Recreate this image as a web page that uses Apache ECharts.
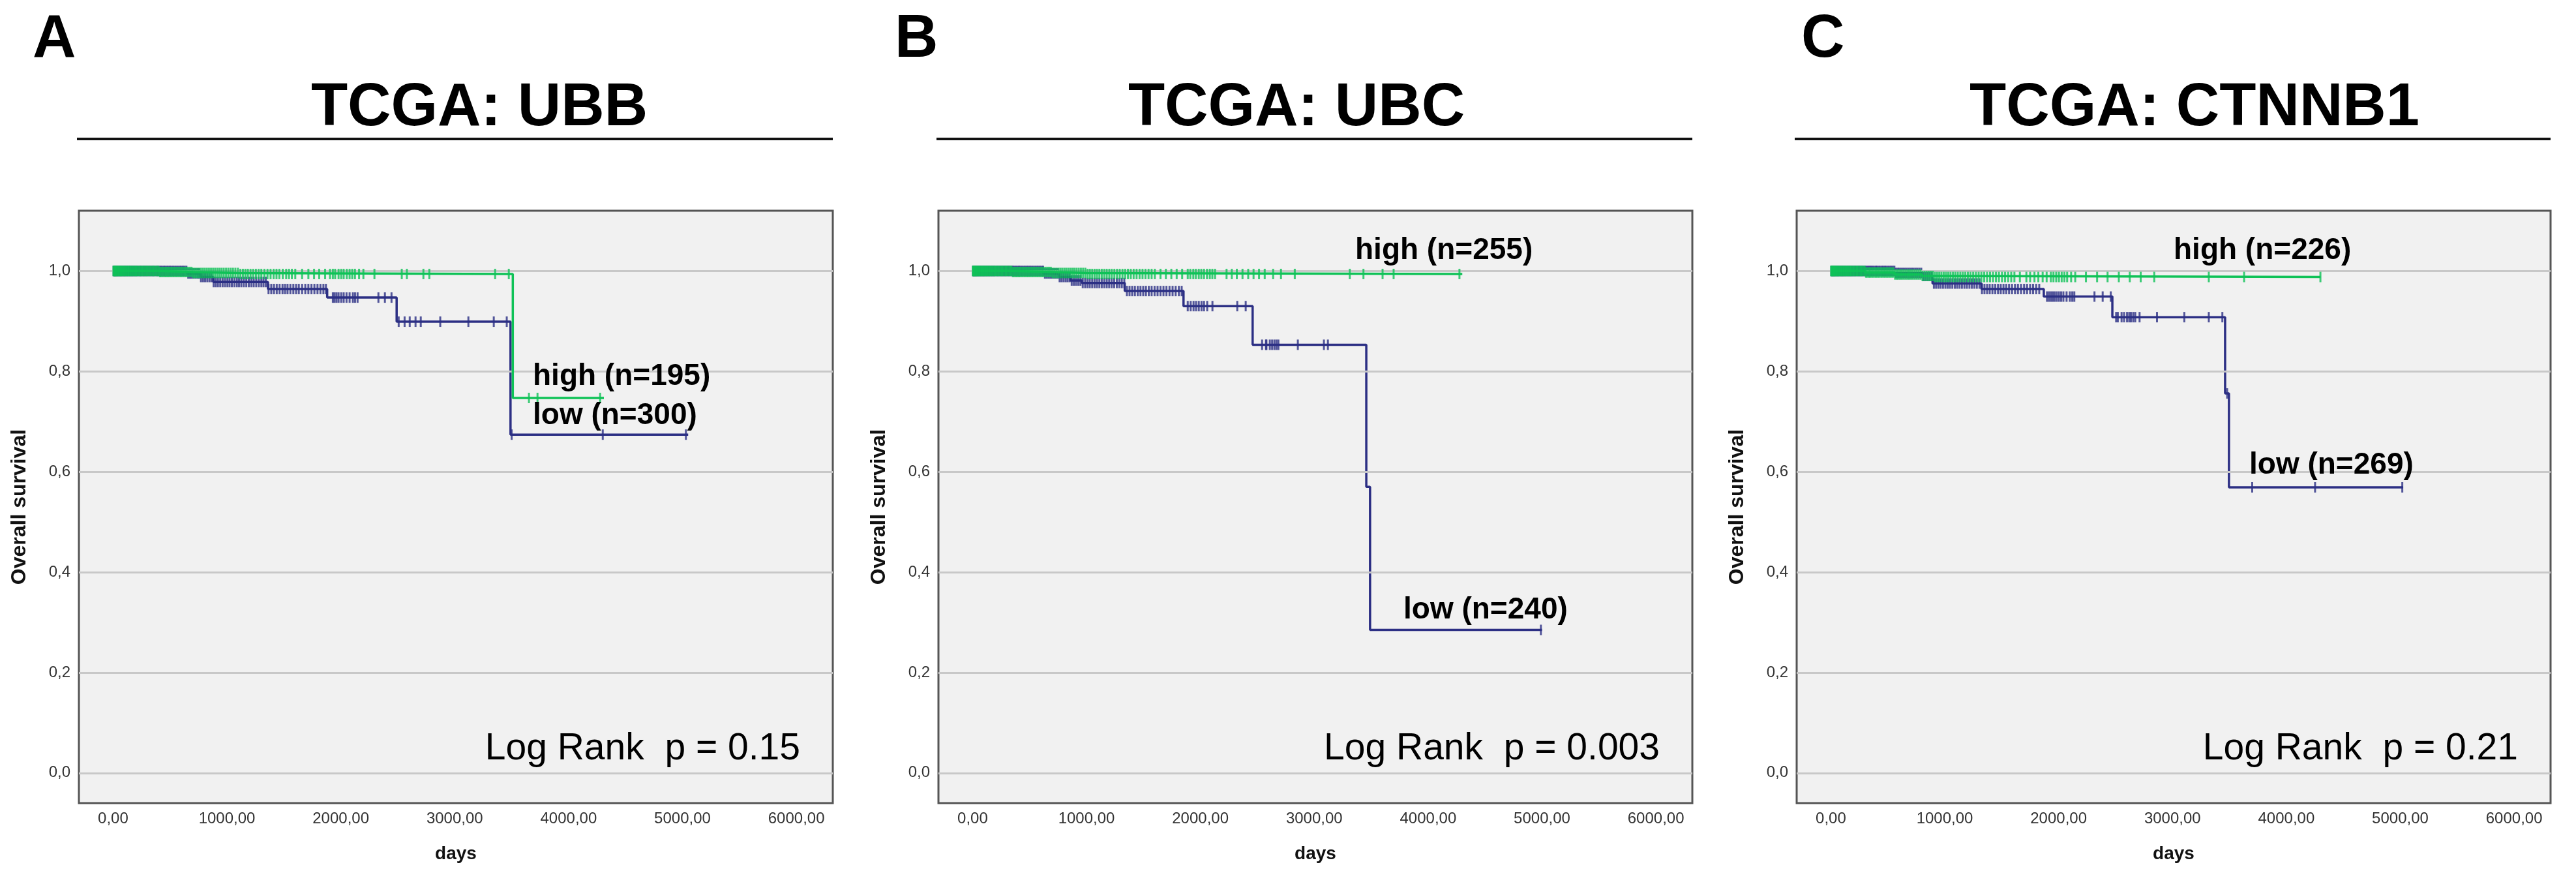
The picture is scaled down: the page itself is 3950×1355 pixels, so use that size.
<!DOCTYPE html>
<html><head><meta charset="utf-8">
<script src="https://cdn.jsdelivr.net/npm/echarts@6/dist/echarts.min.js"></script>
<style>html,body{margin:0;padding:0;background:#fff}#c{width:3950px;height:1355px}</style>
</head><body><div id="c"></div>
<script>
// ---------- text ----------
const panelLetters = ['A', 'B', 'C'];
const panelTitles = ['TCGA: UBB', 'TCGA: UBC', 'TCGA: CTNNB1'];
const logRankTexts = ['Log Rank  p = 0.15', 'Log Rank  p = 0.003', 'Log Rank  p = 0.21'];
const highLabels = ['high (n=195)', 'high (n=255)', 'high (n=226)'];
const lowLabels = ['low (n=300)', 'low (n=240)', 'low (n=269)'];
const xTickValues = [0, 1000, 2000, 3000, 4000, 5000, 6000];
const xTickLabels = ['0,00', '1000,00', '2000,00', '3000,00', '4000,00', '5000,00', '6000,00'];
const yTickValues = [0, 0.2, 0.4, 0.6, 0.8, 1.0];
const yTickLabels = ['0,0', '0,2', '0,4', '0,6', '0,8', '1,0'];
const xAxisTitle = 'days';
const yAxisTitle = 'Overall survival';

// ---------- Kaplan-Meier steps: [day, survival after event] ----------
const ubbLow = [[0,1],[650,0.995],[770,0.988],[880,0.978],[1360,0.964],[1880,0.947],[2490,0.899],[3490,0.674],[5050,0.674]];
const ubbHigh = [[0,1],[400,0.998],[700,0.996],[1100,0.994],[3510,0.747],[4310,0.747]];
const ubcLow = [[0,1],[620,0.995],[760,0.988],[860,0.981],[960,0.976],[1336,0.960],[1852,0.930],[2459,0.853],[3457,0.570],[3490,0.285],[5000,0.285]];
const ubcHigh = [[0,1],[350,0.998],[700,0.996],[1000,0.994],[4300,0.994]];
const ctnnb1Low = [[0,1],[560,0.996],[800,0.990],[893,0.975],[1323,0.964],[1870,0.949],[2472,0.908],[3462,0.756],[3496,0.569],[5026,0.569]];
const ctnnb1High = [[0,1],[300,0.997],[560,0.993],[800,0.990],[900,0.988],[4300,0.988]];

// ---------- censored times (days) ----------
const ubbLowCensor = [12,25,38,55,70,88,104,121,140,158,176,195,214,236,258,279,301,326,348,371,395,418,446,472,498,527,556,585,613,644,676,707,741,772,808,846,883,921,962,1004,1043,1087,1126,1170,1214,1257,1302,1341,1389,1437,1488,1532,1583,1631,1688,1742,1795,1847,1930,1980,2025,2077,2147,2330,2387,2445,2508,2560,2605,2656,2702,2873,3120,3343,3457,3500,4300,5030,
  5,18,31,46,62,79,96,112,130,149,167,185,204,225,247,268,290,313,337,359,383,407,432,459,485,512,541,570,599,628,660,691,724,756,790,827,864,902,941,983,1023,1065,1106,1148,1192,1235,1280,1321,1365,1413,1462,1510,1557,1607,1660,1715,1768,1821,1869,1945,1962,2003,2050,2106,2125];
const ubbHighCensor = [8,18,30,44,59,73,90,107,125,143,162,181,201,222,244,266,289,312,336,361,387,412,439,467,494,522,551,581,611,642,673,705,738,772,806,842,878,915,953,992,1033,1074,1118,1162,1207,1254,1302,1356,1410,1460,1520,1570,1765,1810,1905,1930,1980,2025,2077,2124,2198,2295,2535,2580,2725,2777,3355,3475,3652,3727,4277,
  3,13,24,37,51,66,81,98,116,134,152,171,191,211,233,255,277,300,324,349,374,399,425,453,480,508,536,566,596,626,657,689,721,755,789,824,860,896,934,972,1012,1053,1096,1140,1184,1230,1278,1329,1383,1435,1490,1545,1600,1660,1715,1862,1950,2003,2052,2100,2160];
const ubcLowCensor = [10,22,36,51,67,84,99,117,135,153,172,190,211,233,255,277,299,322,346,369,394,420,447,475,503,531,561,590,619,651,683,716,748,781,817,852,889,928,967,1009,1050,1092,1134,1178,1221,1266,1310,1355,1401,1450,1498,1547,1598,1650,1702,1756,1811,1889,1940,1986,2032,2106,2324,2398,2542,2576,2610,2650,2685,2856,3085,3120,4990,
  4,16,29,43,59,75,92,108,126,144,163,181,200,222,244,266,288,311,334,357,382,407,433,461,489,517,546,575,605,635,667,699,732,764,799,834,870,908,947,988,1029,1071,1113,1156,1199,1243,1288,1332,1378,1425,1474,1522,1572,1624,1676,1729,1783,1836,1915,1962,2010,2060,2580,2630,2668];
const ubcHighCensor = [6,15,27,40,54,69,85,101,118,136,155,174,194,215,237,259,282,305,329,354,380,406,433,461,489,518,547,577,608,639,671,703,736,770,805,840,876,913,951,990,1030,1071,1113,1156,1200,1245,1292,1340,1389,1440,1492,1545,1600,1697,1792,1889,1938,1986,2032,2083,2129,2276,2370,2467,2565,2639,2708,2829,3312,3432,3600,3697,4275,
  2,10,21,33,47,61,77,93,110,127,145,164,184,204,226,248,270,293,317,341,367,393,419,447,475,503,532,562,592,623,655,687,719,753,787,822,858,894,932,970,1010,1050,1092,1134,1178,1222,1268,1316,1364,1414,1466,1518,1572,1650,1745,1840,1912,1960,2008,2058,2105,2230,2320,2420,2515];
const ctnnb1LowCensor = [11,24,37,53,68,86,102,119,137,156,174,193,213,235,257,278,300,324,347,370,396,421,448,474,501,529,558,587,616,647,679,711,744,777,812,849,886,924,964,1006,1046,1089,1130,1173,1217,1260,1305,1349,1395,1444,1492,1540,1591,1643,1697,1750,1803,1898,1932,1965,2003,2042,2099,2138,2315,2387,2458,2505,2553,2601,2635,2673,2711,2864,3104,3319,3438,3480,3700,4252,5018,
  5,17,30,45,60,77,94,110,128,147,165,183,203,224,246,268,289,312,335,358,383,408,434,461,487,515,543,572,601,631,663,695,727,760,794,830,867,905,944,985,1026,1067,1109,1151,1195,1238,1282,1327,1372,1419,1468,1516,1565,1617,1670,1723,1776,1830,1915,1948,1984,2022,2070,2120,2520,2575,2620,2655];
const ctnnb1HighCensor = [7,17,29,42,57,71,88,105,122,140,159,178,198,219,241,263,286,309,333,358,384,410,437,464,492,520,549,579,609,640,672,704,737,771,805,841,877,914,952,991,1031,1072,1115,1159,1203,1250,1298,1347,1398,1450,1503,1557,1612,1717,1788,1860,1932,1979,2027,2075,2146,2338,2529,2625,2721,2840,3319,3629,4299,
  2,12,23,35,49,64,79,96,113,131,149,168,188,208,230,252,274,297,321,345,371,397,423,450,478,506,534,564,594,624,656,688,720,754,788,823,859,895,933,971,1011,1051,1093,1137,1181,1226,1274,1322,1372,1424,1476,1530,1584,1660,1750,1822,1895,1955,2003,2051,2110,2240,2430];

const panels = [
  { low: ubbLow, high: ubbHigh, lowC: ubbLowCensor, highC: ubbHighCensor },
  { low: ubcLow, high: ubcHigh, lowC: ubcLowCensor, highC: ubcHighCensor },
  { low: ctnnb1Low, high: ctnnb1High, lowC: ctnnb1LowCensor, highC: ctnnb1HighCensor }
];

// ---------- layout / style ----------
const gridLefts = [121, 1439, 2755];
const gridTop = 323, gridW = 1156, gridH = 908;
const titleCenters = [735, 1988, 3365];
const letterLefts = [50, 1372, 2762];
const highPos = [[817, 577], [2078, 384], [3333, 384]];
const lowPos = [[817, 637], [2152, 935], [3449, 713]];
const logRankRight = [1227, 2545, 3861];
const GREEN = '#0fc257', BLUE = '#2c2f84';
const FONT = '"Liberation Sans", Arial, sans-serif';

function survAt(steps, t) {
  let s = steps[0][1];
  for (const [d, v] of steps) { if (d <= t) s = v; else break; }
  return s;
}
const tickSym = 'path://M0,0H1V10H0Z';

const grids = [], xAxes = [], yAxes = [], series = [], graphics = [];
panels.forEach((p, i) => {
  grids.push({ left: gridLefts[i], top: gridTop, width: gridW, height: gridH, show: true,
    backgroundColor: '#f1f1f1', borderColor: '#555', borderWidth: 3, containLabel: false });
  xAxes.push({ type: 'value', gridIndex: i, min: -300, max: 6320, interval: 100,
    name: xAxisTitle, nameLocation: 'middle', nameGap: 64,
    nameTextStyle: { fontFamily: FONT, fontWeight: 'bold', fontSize: 28, color: '#111' },
    axisLine: { show: false }, axisTick: { show: false }, splitLine: { show: false },
    axisLabel: { margin: 12, fontFamily: FONT, fontSize: 24, color: '#333', showMinLabel: true, showMaxLabel: true,
      formatter: v => { const r = Math.round(v); const k = xTickValues.indexOf(r); return k >= 0 ? xTickLabels[k] : ''; } } });
  yAxes.push({ type: 'value', gridIndex: i, min: -0.06, max: 1.12, interval: 0.02,
    name: yAxisTitle, nameLocation: 'middle', nameGap: 75, nameRotate: 90,
    nameTextStyle: { fontFamily: FONT, fontWeight: 'bold', fontSize: 32, color: '#111' },
    axisLine: { show: false }, axisTick: { show: false }, splitLine: { show: false },
    axisLabel: { margin: 13, fontFamily: FONT, fontSize: 24, color: '#333',
      formatter: v => { const r = Math.round(v * 100); const k = yTickValues.findIndex(t => Math.round(t * 100) === r); return k >= 0 ? yTickLabels[k] : ''; } } });
  // gridlines
  series.push({ type: 'line', xAxisIndex: i, yAxisIndex: i, data: [], z: 1, silent: true,
    markLine: { silent: true, symbol: 'none', label: { show: false },
      lineStyle: { color: '#c8c8c8', width: 3, type: 'solid' }, animation: false,
      data: yTickValues.map(v => ({ yAxis: v })) } });
  // curves
  [['low', 'lowC', BLUE, 3], ['high', 'highC', GREEN, 5]].forEach(([k, kc, col, z]) => {
    series.push({ type: 'line', xAxisIndex: i, yAxisIndex: i, step: 'end', data: p[k], showSymbol: false,
      symbol: 'none', lineStyle: { color: col, width: 3.5 }, z: z, animation: false, silent: true });
    series.push({ type: 'scatter', xAxisIndex: i, yAxisIndex: i, z: z + 1, animation: false, silent: true,
      symbol: tickSym, symbolSize: [3, 16], itemStyle: { color: col },
      data: p[kc].map(t => [t, survAt(p[k], t)]) });
  });
  // annotations
  graphics.push({ type: 'text', x: letterLefts[i], y: 62, style: { text: panelLetters[i], font: 'bold 92px ' + FONT, fill: '#000', align: 'left', verticalAlign: 'middle' } });
  graphics.push({ type: 'text', x: titleCenters[i], y: 167, style: { text: panelTitles[i], font: 'bold 92px ' + FONT, fill: '#000', align: 'center', verticalAlign: 'middle' } });
  graphics.push({ type: 'line', shape: { x1: gridLefts[i] - 3, y1: 213, x2: gridLefts[i] + gridW, y2: 213 }, style: { stroke: '#111', lineWidth: 4 } });
  graphics.push({ type: 'text', x: highPos[i][0], y: highPos[i][1], z: 10, style: { text: highLabels[i], font: 'bold 46px ' + FONT, fill: '#000', align: 'left', verticalAlign: 'middle' } });
  graphics.push({ type: 'text', x: lowPos[i][0], y: lowPos[i][1], z: 10, style: { text: lowLabels[i], font: 'bold 46px ' + FONT, fill: '#000', align: 'left', verticalAlign: 'middle' } });
  graphics.push({ type: 'text', x: logRankRight[i], y: 1148, z: 10, style: { text: logRankTexts[i], font: '57px ' + FONT, fill: '#000', align: 'right', verticalAlign: 'middle' } });
});

const chart = echarts.init(document.getElementById('c'), null, { renderer: 'canvas' });
chart.setOption({ backgroundColor: '#ffffff', animation: false, grid: grids, xAxis: xAxes, yAxis: yAxes, series: series, graphic: graphics });
</script></body></html>
